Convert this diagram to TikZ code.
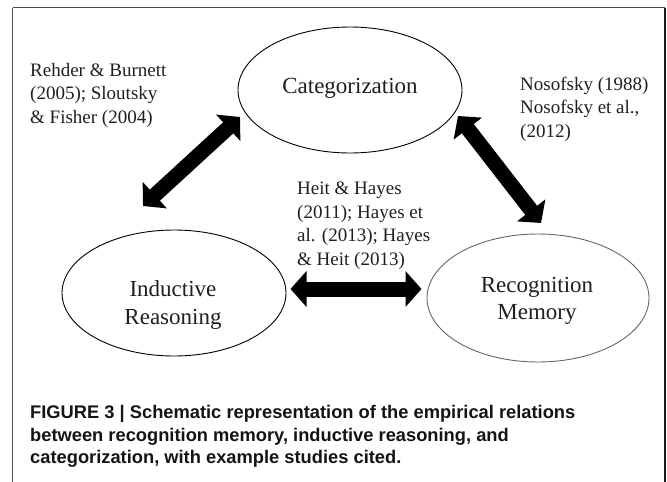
\documentclass[tikz,border=0pt]{standalone}
\usepackage{fontspec}
\setmainfont{Liberation Serif}
\newfontfamily\capfont{Liberation Sans}
\usetikzlibrary{arrows.meta,shapes.geometric}
\begin{document}
\begin{tikzpicture}[x=1pt,y=-1pt,
  oval/.style={draw, ellipse, line width=0.9pt, minimum width=224pt, minimum height=126pt, inner sep=0pt},
  ovaltext/.style={font=\fontsize{23}{27.5}\selectfont, text=black!88, align=center},
  cite/.style={anchor=north west, align=left, inner sep=0pt, font=\fontsize{19}{23.4}\selectfont, text=black!88},
  bigarrow/.style={line width=15pt, {Triangle[width=35pt,length=16pt]}-{Triangle[width=35pt,length=16pt]}, black},
  framebox/.style={draw=black!70, line width=1.3pt}]
\useasboundingbox (0,0) rectangle (667,482);
\begin{scope}
\clip (0,0) rectangle (667,482);
\draw[framebox] (12.5,7.5) -- (665,7.5);
\draw[framebox] (12.5,7.5) -- (12.5,490);
\draw[framebox, draw=black!90] (665,7.5) -- (665,490);
\end{scope}
% ellipses
\node[oval] (cat) at (350,90) {};
\node[oval] (ind) at (174,293) {};
\node[oval, draw=black!60, minimum width=222pt, minimum height=128pt] (rec) at (538,298) {};
\node[ovaltext] (catT) at (350,88) {Categorization};
\node[ovaltext] (indT) at (173,305) {Inductive\\Reasoning};
\node[ovaltext] (recT) at (537,301) {Recognition\\Memory};
% citations
\node[cite] (c1) at (30,63) {Rehder \& Burnett\\(2005); Sloutsky\\\& Fisher (2004)};
\node[cite] (c2) at (520,77) {Nosofsky (1988)\\Nosofsky et al.,\\(2012)};
\node[cite] (c3) at (297,182) {Heit \& Hayes\\(2011); Hayes et\\al. (2013); Hayes\\\& Heit (2013)};
% arrows
\coordinate (a1s) at (143,206);
\coordinate (a1e) at (240,117);
\coordinate (a2s) at (458,116);
\coordinate (a2e) at (541,223);
\coordinate (a3s) at (290.5,289);
\coordinate (a3e) at (421.5,289);
\draw[bigarrow] (a1s) -- (a1e);
\draw[bigarrow] (a2s) -- (a2e);
\draw[bigarrow] (a3s) -- (a3e);
% caption
\node[anchor=north west, align=left, inner sep=0pt, font=\capfont\bfseries\fontsize{18.3}{22.6}\selectfont, text=black!92] (cap) at (30,405) {FIGURE 3 | Schematic representation of the empirical relations\\between recognition memory, inductive reasoning, and\\categorization, with example studies cited.};
\end{tikzpicture}
\end{document}
